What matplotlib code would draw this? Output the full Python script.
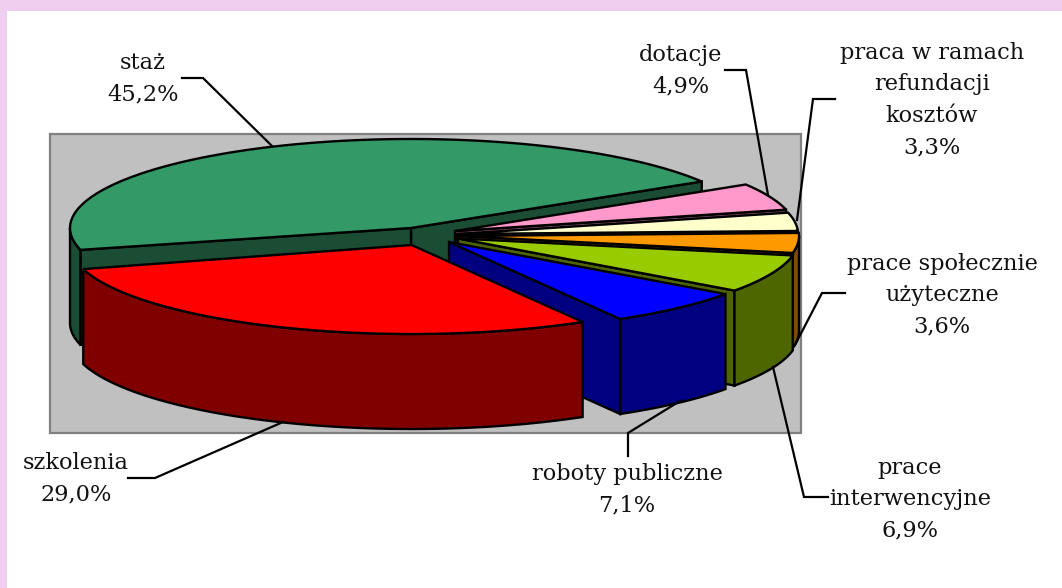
import numpy as np
import matplotlib
matplotlib.use('Agg')
import matplotlib.pyplot as plt
from matplotlib.patches import Polygon, Rectangle

labels = ['staż', 'dotacje', 'praca w ramach\nrefundacji\nkosztów',
          'prace społecznie\nużyteczne', 'prace\ninterwencyjne',
          'roboty publiczne', 'szkolenia']
values = [45.2, 4.9, 3.3, 3.6, 6.9, 7.1, 29.0]
value_text = ['45,2%', '4,9%', '3,3%', '3,6%', '6,9%', '7,1%', '29,0%']
top_colors = ['#339966', '#FF99CC', '#FFFFCC', '#FF9900', '#99CC00', '#0000FF', '#FF0000']
side_colors = ['#1A4D33', '#804D66', '#808066', '#804D00', '#4D6600', '#000080', '#800000']

# pie geometry in pixels
centers = [(411, 228), (455, 231), (457, 234), (458, 236), (458, 238.5), (449, 242), (411.5, 245)]
rx, ry = 341, 89
depth = 95
start_angle = 31.5
# the original has some perspective, front boundary sits a bit off the true angle
angle_nudge = [0, 0, 0, 0, 0, 1.5, 0]
line_w = 1.7

# text centres and leader lines, one per label
label_pos = [(143, 79), (681, 71), (932, 100), (942, 295), (910, 499), (627, 490), (76, 479)]
leaders = [
    [(182, 78), (203, 78), (272, 146)],
    [(725, 70), (746, 70), (768, 195)],
    [(835, 99), (813, 99), (797, 220)],
    [(845, 293), (822, 293), (795, 345)],
    [(828, 497), (804, 497), (773, 367)],
    [(628, 456), (628, 433), (680, 401)],
    [(128, 478), (155, 478), (283, 422)],
]


def ellipse_pts(c, t1, t2, dy=0):
    t = np.radians(np.linspace(t1, t2, 80))
    return np.column_stack([c[0] + rx * np.cos(t), c[1] - ry * np.sin(t) + dy])


def draw_slice(ax, c, t1, t2, top, side):
    # radial cut faces, only those that look towards the viewer
    for t, normal in ((t1, t1 - 90), (t2, t2 + 90)):
        if np.sin(np.radians(normal)) < 0:
            p = ellipse_pts(c, t, t)[0]
            face = [c, p, (p[0], p[1] + depth), (c[0], c[1] + depth)]
            ax.add_patch(Polygon(face, fc=side, ec='k', lw=line_w))
    # outer wall, only the part in front
    for lo, hi in ((-180, 0), (180, 360)):
        a, b = max(t1, lo), min(t2, hi)
        if a < b:
            arc = ellipse_pts(c, a, b)
            wall = np.vstack([arc, ellipse_pts(c, b, a, depth)])
            ax.add_patch(Polygon(wall, fc=side, ec='k', lw=line_w))
    pts = np.vstack([[c], ellipse_pts(c, t1, t2)])
    ax.add_patch(Polygon(pts, fc=top, ec='k', lw=line_w))


fig = plt.figure(figsize=(10.62, 5.88), dpi=100)
ax = fig.add_axes([0, 0, 1, 1])
ax.set_xlim(0, 1062)
ax.set_ylim(588, 0)
ax.axis('off')

ax.add_patch(Rectangle((0, 0), 1062, 11, fc='#EFCEEF', ec='none'))
ax.add_patch(Rectangle((0, 0), 7, 588, fc='#EFCEEF', ec='none'))
ax.add_patch(Rectangle((50, 133.5), 751, 299, fc='#C0C0C0', ec='#808080', lw=1.6))

sweeps = np.array(values) / sum(values) * 360
# first slice runs counter clockwise from the start angle, the rest go clockwise
upper = start_angle
draw_slice(ax, centers[0], start_angle, start_angle + sweeps[0], top_colors[0], side_colors[0])
for i in range(1, len(values)):
    lower = upper - sweeps[i] + angle_nudge[i]
    draw_slice(ax, centers[i], lower, upper, top_colors[i], side_colors[i])
    upper = lower

for line in leaders:
    xs, ys = zip(*line)
    ax.plot(xs, ys, color='k', lw=1.6, solid_joinstyle='miter')

for lab, val, pos in zip(labels, value_text, label_pos):
    ax.text(pos[0], pos[1], lab + '\n' + val, ha='center', va='center', multialignment='center',
            family='DejaVu Serif', fontsize=16.2, color='#111111', linespacing=1.55)

fig.savefig('out.png', dpi=100)
